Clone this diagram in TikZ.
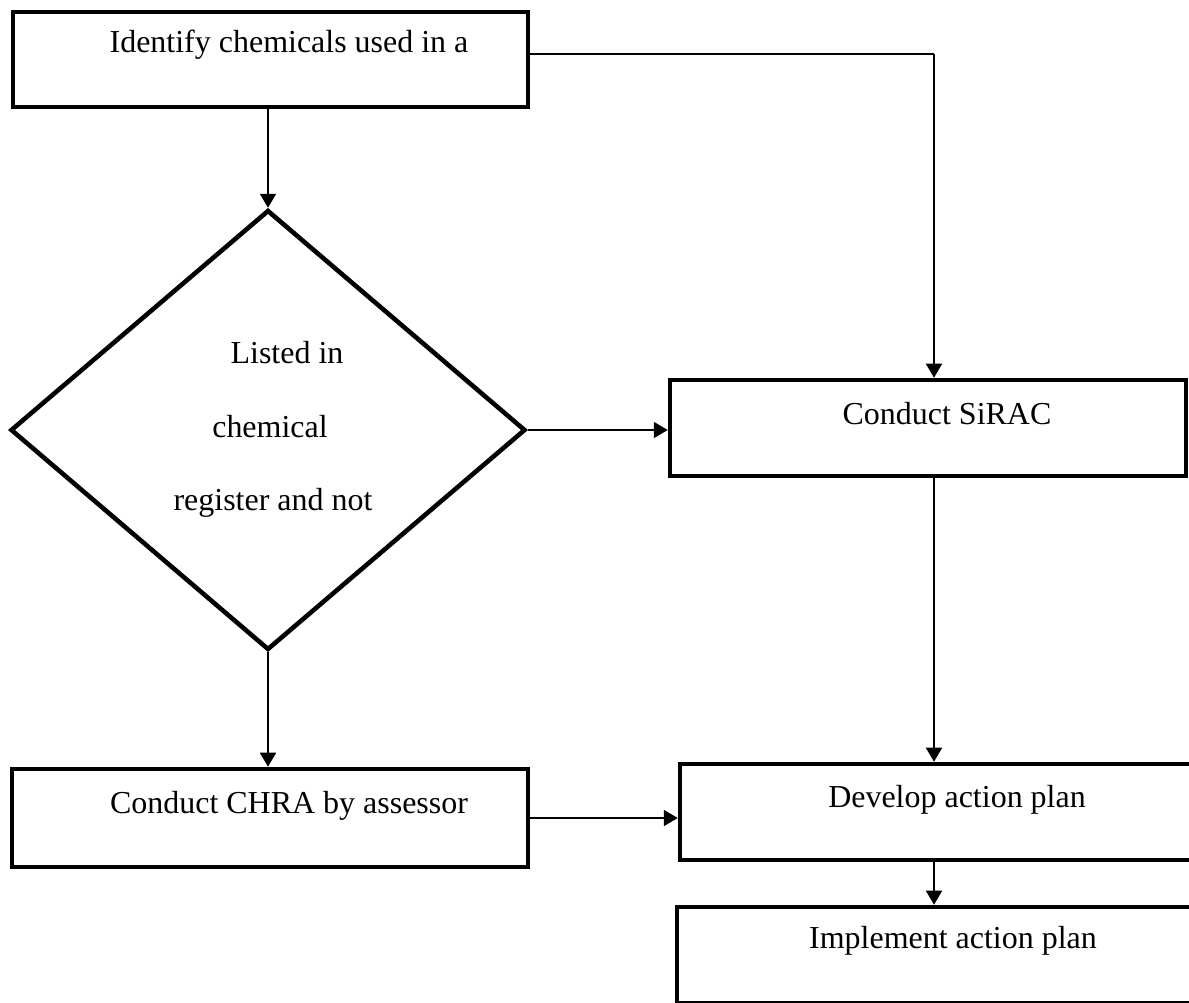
\documentclass[tikz,border=0pt]{standalone}
\usepackage{fontspec}
\setmainfont{Liberation Serif}
\usetikzlibrary{shapes.geometric,arrows.meta}
\tikzset{
  flowbox/.style={draw, line width=2.6pt, inner sep=0pt},
  flowtext/.style={anchor=base, font=\fontsize{18.2}{21}\selectfont, inner sep=0pt},
  arr/.style={-{Triangle[length=0.28cm,width=0.32cm]}, line width=0.95pt}
}
\begin{document}
\begin{tikzpicture}[x=0.02cm, y=-0.02cm]
  \clip (0,0) rectangle (1189,1003);
  % boxes
  \node [flowbox, minimum width=10.3cm, minimum height=1.9cm] (ident) at (270.5,59.5) {};
  \node [flowbox, diamond, minimum width=10.3cm, minimum height=8.8cm] (dec) at (268,430) {};
  \node [flowbox, minimum width=10.32cm, minimum height=1.92cm] (sirac) at (928,428) {};
  \node [flowbox, minimum width=10.32cm, minimum height=1.96cm] (chra) at (270,818) {};
  \node [flowbox, minimum width=10.32cm, minimum height=1.92cm] (dev) at (938,812) {};
  \node [flowbox, minimum width=10.32cm, minimum height=1.92cm] (impl) at (935,955) {};
  % texts
  \node [flowtext] (identtxt) at (289,53) {Identify chemicals used in a};
  \node [flowtext] (dectxta) at (287,363) {Listed in};
  \node [flowtext] (dectxtb) at (270,437) {chemical};
  \node [flowtext] (dectxtc) at (273,510) {register and not};
  \node [flowtext] (siractxt) at (947,424) {Conduct SiRAC};
  \node [flowtext] (chratxt) at (289,813) {Conduct CHRA by assessor};
  \node [flowtext] (devtxt) at (957,807) {Develop action plan};
  \node [flowtext] (impltxt) at (953,948) {Implement action plan};
  % connectors
  \coordinate (rtop) at (934,54);
  \draw [arr] (ident.south -| dec.north) -- (dec.north);
  \draw [line width=0.95pt] (ident.east |- rtop) -- (rtop);
  \draw [arr] (rtop) -- (rtop |- sirac.north);
  \draw [arr] (dec.east) -- (sirac.west |- dec.east);
  \draw [arr] (rtop |- sirac.south) -- (rtop |- dev.north);
  \draw [arr] (dec.south) -- (dec.south |- chra.north);
  \draw [arr] (chra.east) -- (dev.west |- chra.east);
  \draw [arr] (rtop |- dev.south) -- (rtop |- impl.north);
\end{tikzpicture}
\end{document}
